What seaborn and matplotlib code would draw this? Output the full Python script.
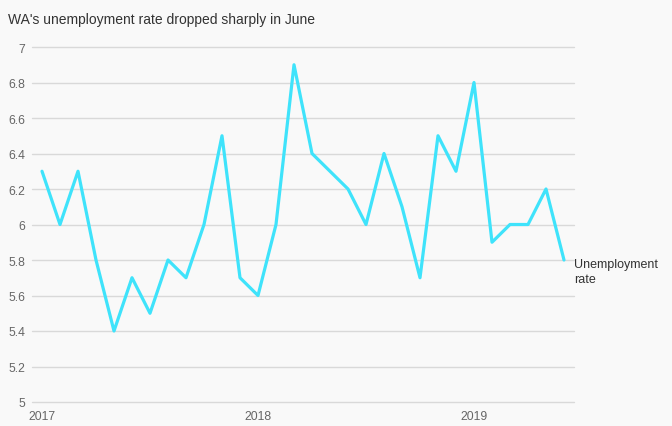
import matplotlib
matplotlib.use("Agg")
import matplotlib.pyplot as plt
import seaborn as sns
import pandas as pd

months = ["2017-01", "2017-02", "2017-03", "2017-04", "2017-05", "2017-06",
          "2017-07", "2017-08", "2017-09", "2017-10", "2017-11", "2017-12",
          "2018-01", "2018-02", "2018-03", "2018-04", "2018-05", "2018-06",
          "2018-07", "2018-08", "2018-09", "2018-10", "2018-11", "2018-12",
          "2019-01", "2019-02", "2019-03", "2019-04", "2019-05", "2019-06"]
rate = [6.3, 6.0, 6.3, 5.8, 5.4, 5.7, 5.5, 5.8, 5.7, 6.0, 6.5, 5.7,
        5.6, 6.0, 6.9, 6.4, 6.3, 6.2, 6.0, 6.4, 6.1, 5.7, 6.5, 6.3,
        6.8, 5.9, 6.0, 6.0, 6.2, 5.8]
year_ticks = [0, 12, 24]
year_labels = ["2017", "2018", "2019"]
y_ticks = [5, 5.2, 5.4, 5.6, 5.8, 6, 6.2, 6.4, 6.6, 6.8, 7]
y_labels = ["5", "5.2", "5.4", "5.6", "5.8", "6", "6.2", "6.4", "6.6", "6.8", "7"]

df = pd.DataFrame({"month": months, "rate": rate})
df["idx"] = range(len(df))

sns.set_theme(style="white")
plt.rcParams["font.family"] = ["Liberation Sans", "DejaVu Sans"]

bg = "#f9f9f9"
fig = plt.figure(figsize=(6.72, 4.27), dpi=100, facecolor=bg)
ax = fig.add_axes([32/672, 1-403/427, (574-32)/672, (403-48)/427])
ax.set_facecolor(bg)

sns.lineplot(data=df, x="idx", y="rate", ax=ax, color="#3fe3fb", linewidth=2.3)

pad = 10/18
ax.set_xlim(-pad, len(df) - 1 + pad)
ax.set_ylim(5, 7)
ax.set_yticks(y_ticks)
ax.set_yticklabels(y_labels)
ax.set_xticks(year_ticks)
ax.set_xticklabels(year_labels)
ax.grid(axis="y", color="#d9d9d9", linewidth=1)
ax.grid(axis="x", visible=False)
for gl in ax.get_ygridlines():
    gl.set_clip_on(False)
ax.set_axisbelow(True)
for s in ax.spines.values():
    s.set_visible(False)
ax.tick_params(axis="both", length=0, labelsize=8.8, colors="#666666")
ax.tick_params(axis="y", pad=5)
ax.tick_params(axis="x", pad=6)
ax.set_xlabel("")
ax.set_ylabel("")

ax.text(len(df) - 1 + pad, rate[-1] + 0.012, "Unemployment\nrate", ha="left", va="top",
        fontsize=9, color="#333333", linespacing=1.3, clip_on=False)

fig.text(8/672, 1-20/427, "WA's unemployment rate dropped sharply in June",
         ha="left", va="center", fontsize=10, color="#333333")

fig.savefig("out.png", dpi=100, facecolor=bg)
